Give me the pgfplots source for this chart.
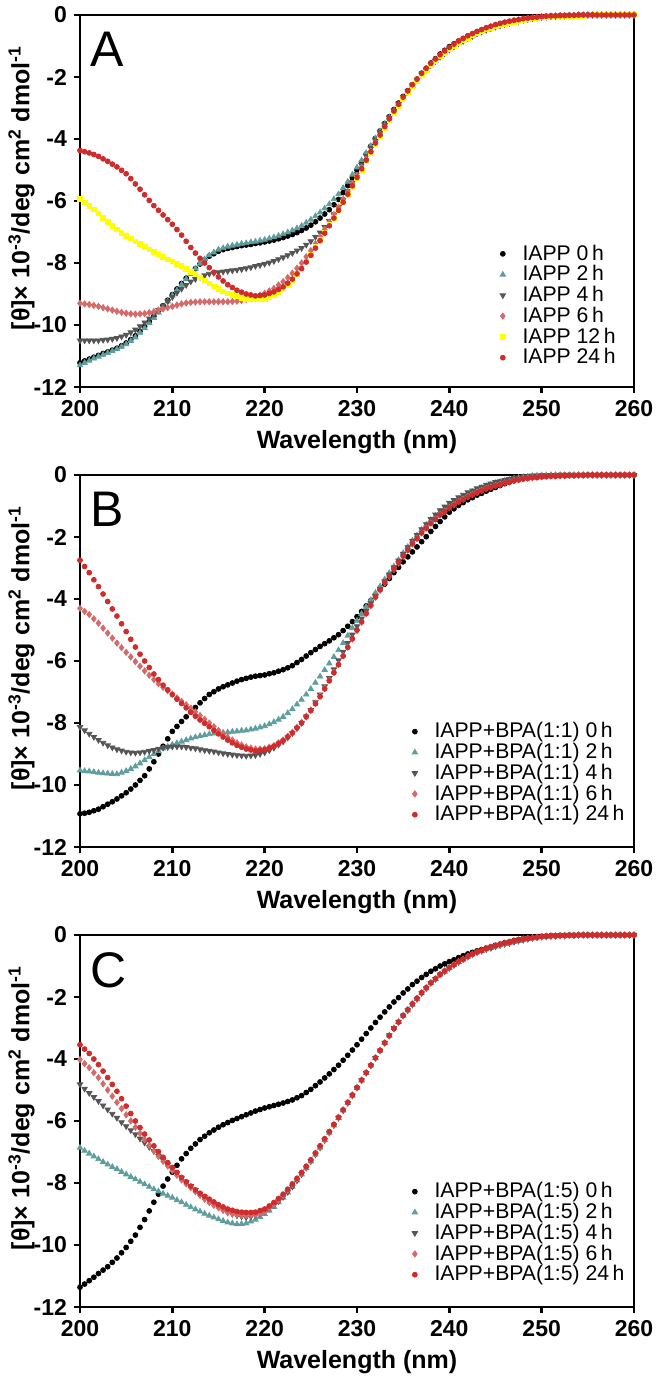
\documentclass[border=0pt]{standalone}
\usepackage{fontspec}
\setmainfont{Liberation Sans}
\usepackage{pgfplots}
\usepackage{pgfplotstable}
\pgfplotsset{compat=1.18}
\definecolor{cteal}{HTML}{5E9E9E}
\definecolor{cgray}{HTML}{555555}
\definecolor{cpink}{HTML}{D46A6A}
\definecolor{cred}{HTML}{D02C2C}
\definecolor{cyel}{HTML}{FFFF00}

% panel A: x, 0h, 2h, 4h, 6h, 12h, 24h
\pgfplotstableread{
x a b c d e f
200 -11.22 -11.30 -10.50 -9.30 -5.93 -4.37
200.5 -11.16 -11.22 -10.50 -9.32 -6.04 -4.41
201 -11.10 -11.15 -10.50 -9.34 -6.15 -4.45
201.5 -11.04 -11.08 -10.50 -9.37 -6.27 -4.50
202 -10.98 -11.02 -10.50 -9.40 -6.40 -4.56
202.5 -10.92 -10.96 -10.48 -9.44 -6.54 -4.64
203 -10.87 -10.90 -10.47 -9.48 -6.68 -4.72
203.5 -10.81 -10.84 -10.45 -9.52 -6.80 -4.81
204 -10.75 -10.78 -10.42 -9.56 -6.92 -4.90
204.5 -10.67 -10.70 -10.37 -9.59 -7.02 -5.01
205 -10.58 -10.62 -10.32 -9.62 -7.12 -5.12
205.5 -10.47 -10.51 -10.24 -9.64 -7.21 -5.28
206 -10.35 -10.40 -10.15 -9.65 -7.30 -5.45
206.5 -10.20 -10.25 -10.04 -9.64 -7.39 -5.62
207 -10.05 -10.10 -9.92 -9.63 -7.48 -5.80
207.5 -9.89 -9.94 -9.79 -9.60 -7.56 -5.98
208 -9.72 -9.77 -9.65 -9.57 -7.65 -6.15
208.5 -9.55 -9.60 -9.52 -9.52 -7.72 -6.30
209 -9.38 -9.42 -9.38 -9.48 -7.80 -6.45
209.5 -9.20 -9.24 -9.24 -9.44 -7.88 -6.60
210 -9.02 -9.05 -9.10 -9.40 -7.95 -6.75
210.5 -8.84 -8.88 -8.96 -9.36 -8.02 -6.92
211 -8.66 -8.70 -8.83 -9.32 -8.10 -7.10
211.5 -8.49 -8.52 -8.71 -9.29 -8.19 -7.30
212 -8.33 -8.35 -8.60 -9.27 -8.28 -7.50
212.5 -8.18 -8.18 -8.52 -9.26 -8.37 -7.68
213 -8.03 -8.02 -8.45 -9.25 -8.47 -7.85
213.5 -7.90 -7.88 -8.40 -9.25 -8.56 -8.00
214 -7.78 -7.75 -8.35 -9.25 -8.66 -8.15
214.5 -7.70 -7.66 -8.32 -9.25 -8.75 -8.30
215 -7.62 -7.57 -8.30 -9.25 -8.84 -8.45
215.5 -7.57 -7.52 -8.28 -9.25 -8.91 -8.58
216 -7.53 -7.47 -8.26 -9.25 -8.98 -8.70
216.5 -7.50 -7.44 -8.24 -9.24 -9.03 -8.79
217 -7.47 -7.41 -8.22 -9.23 -9.08 -8.88
217.5 -7.44 -7.38 -8.20 -9.21 -9.12 -8.94
218 -7.42 -7.36 -8.17 -9.18 -9.15 -9.00
218.5 -7.40 -7.33 -8.14 -9.14 -9.17 -9.03
219 -7.37 -7.31 -8.10 -9.10 -9.18 -9.06
219.5 -7.35 -7.28 -8.07 -9.04 -9.17 -9.05
220 -7.32 -7.25 -8.03 -8.98 -9.15 -9.03
220.5 -7.29 -7.21 -7.99 -8.90 -9.10 -8.98
221 -7.26 -7.17 -7.94 -8.82 -9.05 -8.93
221.5 -7.22 -7.12 -7.88 -8.71 -8.95 -8.85
222 -7.18 -7.07 -7.82 -8.60 -8.85 -8.77
222.5 -7.13 -7.01 -7.75 -8.47 -8.70 -8.65
223 -7.08 -6.95 -7.68 -8.33 -8.55 -8.52
223.5 -7.02 -6.88 -7.60 -8.17 -8.36 -8.35
224 -6.95 -6.80 -7.52 -8.00 -8.17 -8.18
224.5 -6.87 -6.70 -7.41 -7.80 -7.95 -7.97
225 -6.78 -6.60 -7.30 -7.60 -7.73 -7.75
225.5 -6.67 -6.49 -7.16 -7.38 -7.49 -7.52
226 -6.55 -6.37 -7.02 -7.15 -7.25 -7.28
226.5 -6.42 -6.24 -6.84 -6.92 -7.01 -7.04
227 -6.28 -6.10 -6.65 -6.68 -6.77 -6.80
227.5 -6.12 -5.94 -6.43 -6.44 -6.54 -6.55
228 -5.95 -5.78 -6.20 -6.20 -6.30 -6.30
228.5 -5.73 -5.58 -5.94 -5.95 -6.05 -6.04
229 -5.50 -5.38 -5.68 -5.70 -5.80 -5.78
229.5 -5.25 -5.15 -5.40 -5.44 -5.54 -5.51
230 -5.00 -4.92 -5.12 -5.18 -5.27 -5.24
230.5 -4.74 -4.69 -4.84 -4.92 -5.00 -4.96
231 -4.48 -4.45 -4.55 -4.65 -4.72 -4.68
231.5 -4.23 -4.22 -4.29 -4.39 -4.45 -4.41
232 -3.98 -3.98 -4.02 -4.12 -4.17 -4.13
232.5 -3.74 -3.75 -3.78 -3.86 -3.91 -3.87
233 -3.50 -3.52 -3.53 -3.60 -3.65 -3.60
233.5 -3.28 -3.30 -3.30 -3.36 -3.40 -3.35
234 -3.05 -3.08 -3.07 -3.12 -3.15 -3.10
234.5 -2.84 -2.88 -2.86 -2.90 -2.93 -2.88
235 -2.63 -2.67 -2.65 -2.68 -2.70 -2.65
235.5 -2.44 -2.48 -2.46 -2.48 -2.50 -2.45
236 -2.25 -2.28 -2.27 -2.28 -2.30 -2.25
236.5 -2.07 -2.11 -2.10 -2.10 -2.12 -2.07
237 -1.88 -1.93 -1.92 -1.92 -1.94 -1.88
237.5 -1.72 -1.78 -1.77 -1.76 -1.78 -1.72
238 -1.55 -1.62 -1.62 -1.60 -1.62 -1.56
238.5 -1.41 -1.49 -1.49 -1.46 -1.48 -1.42
239 -1.26 -1.35 -1.35 -1.32 -1.34 -1.28
239.5 -1.14 -1.24 -1.24 -1.20 -1.22 -1.16
240 -1.02 -1.12 -1.12 -1.08 -1.10 -1.04
240.5 -0.93 -1.02 -1.02 -0.98 -1.00 -0.94
241 -0.84 -0.92 -0.92 -0.88 -0.90 -0.84
241.5 -0.76 -0.84 -0.84 -0.79 -0.82 -0.76
242 -0.68 -0.75 -0.75 -0.70 -0.73 -0.67
242.5 -0.62 -0.68 -0.68 -0.63 -0.66 -0.60
243 -0.55 -0.60 -0.60 -0.56 -0.59 -0.53
243.5 -0.50 -0.54 -0.54 -0.50 -0.53 -0.47
244 -0.44 -0.48 -0.48 -0.44 -0.47 -0.41
244.5 -0.40 -0.43 -0.43 -0.39 -0.42 -0.36
245 -0.35 -0.38 -0.38 -0.34 -0.37 -0.31
245.5 -0.31 -0.34 -0.34 -0.30 -0.33 -0.27
246 -0.27 -0.29 -0.29 -0.26 -0.29 -0.23
246.5 -0.24 -0.26 -0.26 -0.23 -0.26 -0.20
247 -0.20 -0.22 -0.22 -0.19 -0.22 -0.17
247.5 -0.17 -0.19 -0.19 -0.16 -0.19 -0.15
248 -0.14 -0.16 -0.16 -0.13 -0.16 -0.12
248.5 -0.12 -0.14 -0.14 -0.11 -0.14 -0.10
249 -0.09 -0.11 -0.11 -0.09 -0.11 -0.08
249.5 -0.07 -0.09 -0.09 -0.08 -0.10 -0.07
250 -0.05 -0.07 -0.07 -0.06 -0.08 -0.05
250.5 -0.04 -0.06 -0.06 -0.05 -0.07 -0.04
251 -0.03 -0.04 -0.04 -0.04 -0.05 -0.03
251.5 -0.03 -0.04 -0.04 -0.03 -0.05 -0.03
252 -0.02 -0.03 -0.03 -0.02 -0.04 -0.02
252.5 -0.02 -0.03 -0.03 -0.02 -0.04 -0.02
253 -0.01 -0.02 -0.02 -0.01 -0.03 -0.01
253.5 -0.01 -0.02 -0.02 -0.01 -0.03 -0.01
254 0 -0.01 -0.01 0 -0.02 0
254.5 0 -0.01 -0.01 0 -0.02 0
255 0 0 0 0 -0.01 0
255.5 0 0 0 0 -0.01 0
256 0 0 0 0 0 0
256.5 0 0 0 0 0 0
257 0 0 0 0 0 0
257.5 0 0 0 0 0 0
258 0 0 0 0 0 0
258.5 0 0 0 0 0 0
259 0 0 0 0 0 0
259.5 0 0 0 0 0 0
260 0 0 0 0 0 0
}\tabA

% panel B: x, 0h, 2h, 4h, 6h, 24h
\pgfplotstableread{
x a b c d f
200 -10.93 -9.53 -8.13 -4.30 -2.75
200.5 -10.91 -9.55 -8.24 -4.40 -2.95
201 -10.88 -9.56 -8.35 -4.50 -3.15
201.5 -10.83 -9.58 -8.45 -4.64 -3.38
202 -10.78 -9.60 -8.55 -4.78 -3.60
202.5 -10.70 -9.62 -8.64 -4.94 -3.84
203 -10.62 -9.63 -8.72 -5.10 -4.08
203.5 -10.54 -9.64 -8.79 -5.26 -4.32
204 -10.45 -9.65 -8.85 -5.42 -4.55
204.5 -10.35 -9.60 -8.89 -5.57 -4.80
205 -10.25 -9.55 -8.93 -5.72 -5.05
205.5 -10.13 -9.48 -8.95 -5.87 -5.30
206 -10.00 -9.40 -8.96 -6.02 -5.55
206.5 -9.85 -9.30 -8.95 -6.17 -5.78
207 -9.70 -9.20 -8.93 -6.32 -6.00
207.5 -9.48 -9.10 -8.90 -6.46 -6.21
208 -9.25 -9.00 -8.87 -6.60 -6.42
208.5 -9.00 -8.91 -8.83 -6.73 -6.60
209 -8.75 -8.82 -8.80 -6.85 -6.78
209.5 -8.51 -8.76 -8.78 -6.96 -6.93
210 -8.27 -8.70 -8.76 -7.07 -7.08
210.5 -8.11 -8.65 -8.76 -7.19 -7.23
211 -7.95 -8.60 -8.76 -7.30 -7.37
211.5 -7.80 -8.55 -8.78 -7.41 -7.51
212 -7.65 -8.50 -8.80 -7.52 -7.65
212.5 -7.50 -8.46 -8.82 -7.64 -7.78
213 -7.35 -8.42 -8.85 -7.76 -7.90
213.5 -7.21 -8.39 -8.88 -7.88 -8.01
214 -7.08 -8.36 -8.90 -8.00 -8.12
214.5 -6.99 -8.34 -8.92 -8.12 -8.24
215 -6.90 -8.32 -8.95 -8.24 -8.35
215.5 -6.83 -8.31 -8.98 -8.35 -8.45
216 -6.77 -8.30 -9.00 -8.46 -8.55
216.5 -6.71 -8.28 -9.02 -8.55 -8.64
217 -6.65 -8.27 -9.04 -8.64 -8.72
217.5 -6.60 -8.25 -9.05 -8.71 -8.78
218 -6.56 -8.24 -9.06 -8.77 -8.84
218.5 -6.52 -8.21 -9.05 -8.81 -8.87
219 -6.49 -8.18 -9.04 -8.84 -8.90
219.5 -6.47 -8.14 -9.00 -8.84 -8.88
220 -6.45 -8.10 -8.95 -8.83 -8.86
220.5 -6.41 -8.04 -8.88 -8.78 -8.81
221 -6.38 -7.97 -8.80 -8.73 -8.75
221.5 -6.33 -7.89 -8.70 -8.64 -8.66
222 -6.28 -7.80 -8.60 -8.55 -8.57
222.5 -6.22 -7.68 -8.47 -8.43 -8.45
223 -6.15 -7.55 -8.33 -8.30 -8.32
223.5 -6.05 -7.40 -8.17 -8.14 -8.16
224 -5.95 -7.25 -8.00 -7.98 -8.00
224.5 -5.84 -7.08 -7.79 -7.78 -7.80
225 -5.73 -6.90 -7.58 -7.58 -7.60
225.5 -5.63 -6.70 -7.33 -7.36 -7.38
226 -5.53 -6.50 -7.08 -7.13 -7.15
226.5 -5.44 -6.29 -6.82 -6.88 -6.90
227 -5.35 -6.08 -6.55 -6.62 -6.64
227.5 -5.25 -5.87 -6.27 -6.36 -6.38
228 -5.15 -5.65 -5.98 -6.10 -6.12
228.5 -5.02 -5.42 -5.70 -5.83 -5.84
229 -4.88 -5.18 -5.42 -5.55 -5.56
229.5 -4.73 -4.94 -5.15 -5.29 -5.28
230 -4.57 -4.70 -4.88 -5.02 -5.00
230.5 -4.40 -4.48 -4.63 -4.75 -4.73
231 -4.22 -4.25 -4.38 -4.48 -4.46
231.5 -4.05 -4.03 -4.14 -4.22 -4.20
232 -3.88 -3.80 -3.90 -3.95 -3.93
232.5 -3.70 -3.59 -3.67 -3.72 -3.70
233 -3.52 -3.37 -3.43 -3.48 -3.46
233.5 -3.34 -3.16 -3.21 -3.27 -3.25
234 -3.15 -2.95 -2.98 -3.05 -3.03
234.5 -2.98 -2.74 -2.76 -2.84 -2.82
235 -2.80 -2.52 -2.54 -2.62 -2.61
235.5 -2.64 -2.32 -2.33 -2.42 -2.42
236 -2.48 -2.12 -2.12 -2.22 -2.22
236.5 -2.32 -1.95 -1.94 -2.05 -2.05
237 -2.15 -1.77 -1.75 -1.87 -1.87
237.5 -1.99 -1.61 -1.59 -1.71 -1.72
238 -1.82 -1.45 -1.42 -1.55 -1.56
238.5 -1.66 -1.32 -1.28 -1.42 -1.43
239 -1.50 -1.18 -1.14 -1.28 -1.29
239.5 -1.35 -1.07 -1.02 -1.17 -1.18
240 -1.20 -0.96 -0.90 -1.05 -1.06
240.5 -1.09 -0.87 -0.81 -0.96 -0.97
241 -0.98 -0.78 -0.72 -0.86 -0.87
241.5 -0.89 -0.70 -0.64 -0.78 -0.79
242 -0.80 -0.62 -0.56 -0.70 -0.71
242.5 -0.73 -0.55 -0.50 -0.63 -0.64
243 -0.65 -0.48 -0.43 -0.56 -0.57
243.5 -0.59 -0.42 -0.38 -0.50 -0.51
244 -0.52 -0.36 -0.32 -0.44 -0.45
244.5 -0.46 -0.31 -0.28 -0.39 -0.40
245 -0.40 -0.26 -0.23 -0.34 -0.35
245.5 -0.34 -0.22 -0.20 -0.30 -0.31
246 -0.28 -0.18 -0.16 -0.25 -0.26
246.5 -0.23 -0.15 -0.13 -0.22 -0.23
247 -0.18 -0.11 -0.10 -0.18 -0.19
247.5 -0.14 -0.09 -0.08 -0.15 -0.16
248 -0.10 -0.06 -0.05 -0.12 -0.13
248.5 -0.08 -0.05 -0.04 -0.10 -0.11
249 -0.05 -0.03 -0.02 -0.08 -0.09
249.5 -0.04 -0.02 -0.02 -0.07 -0.08
250 -0.02 -0.01 -0.01 -0.05 -0.06
250.5 -0.02 -0.01 -0.01 -0.04 -0.05
251 -0.01 0 0 -0.03 -0.04
251.5 -0.01 0 0 -0.03 -0.04
252 0 0 0 -0.02 -0.03
252.5 0 0 0 -0.02 -0.03
253 0 0 0 -0.01 -0.02
253.5 0 0 0 -0.01 -0.02
254 0 0 0 0 -0.01
254.5 0 0 0 0 -0.01
255 0 0 0 0 0
255.5 0 0 0 0 0
256 0 0 0 0 0
256.5 0 0 0 0 0
257 0 0 0 0 0
257.5 0 0 0 0 0
258 0 0 0 0 0
258.5 0 0 0 0 0
259 0 0 0 0 0
259.5 0 0 0 0 0
260 0 0 0 0 0
}\tabB

% panel C: x, 0h, 2h, 4h, 6h, 24h
\pgfplotstableread{
x a b c d f
200 -11.36 -6.86 -4.82 -4.02 -3.54
200.5 -11.26 -6.96 -4.96 -4.15 -3.68
201 -11.15 -7.05 -5.10 -4.28 -3.82
201.5 -11.04 -7.14 -5.23 -4.44 -4.00
202 -10.92 -7.23 -5.36 -4.60 -4.18
202.5 -10.81 -7.32 -5.50 -4.80 -4.39
203 -10.70 -7.40 -5.63 -5.00 -4.60
203.5 -10.56 -7.48 -5.77 -5.20 -4.82
204 -10.42 -7.55 -5.90 -5.40 -5.04
204.5 -10.25 -7.64 -6.04 -5.60 -5.28
205 -10.08 -7.72 -6.17 -5.80 -5.52
205.5 -9.88 -7.80 -6.30 -6.00 -5.76
206 -9.68 -7.88 -6.43 -6.20 -6.00
206.5 -9.43 -7.96 -6.57 -6.40 -6.21
207 -9.18 -8.04 -6.70 -6.60 -6.42
207.5 -8.90 -8.12 -6.84 -6.79 -6.61
208 -8.62 -8.20 -6.97 -6.97 -6.80
208.5 -8.36 -8.27 -7.12 -7.14 -6.99
209 -8.10 -8.34 -7.26 -7.30 -7.17
209.5 -7.87 -8.41 -7.41 -7.45 -7.34
210 -7.65 -8.47 -7.55 -7.60 -7.50
210.5 -7.43 -8.55 -7.69 -7.75 -7.66
211 -7.22 -8.62 -7.83 -7.90 -7.82
211.5 -7.05 -8.70 -7.97 -8.03 -7.96
212 -6.88 -8.78 -8.10 -8.15 -8.10
212.5 -6.74 -8.85 -8.23 -8.28 -8.22
213 -6.60 -8.92 -8.35 -8.40 -8.33
213.5 -6.49 -8.99 -8.46 -8.52 -8.43
214 -6.38 -9.05 -8.57 -8.63 -8.52
214.5 -6.29 -9.11 -8.68 -8.72 -8.61
215 -6.20 -9.17 -8.78 -8.80 -8.70
215.5 -6.12 -9.22 -8.87 -8.88 -8.77
216 -6.05 -9.27 -8.95 -8.95 -8.84
216.5 -5.98 -9.30 -9.00 -8.99 -8.88
217 -5.92 -9.33 -9.05 -9.02 -8.92
217.5 -5.86 -9.32 -9.08 -9.04 -8.94
218 -5.80 -9.30 -9.10 -9.05 -8.95
218.5 -5.74 -9.24 -9.08 -9.04 -8.95
219 -5.68 -9.18 -9.05 -9.03 -8.94
219.5 -5.63 -9.09 -8.99 -8.98 -8.89
220 -5.58 -9.00 -8.92 -8.92 -8.84
220.5 -5.54 -8.89 -8.82 -8.81 -8.74
221 -5.50 -8.77 -8.72 -8.70 -8.63
221.5 -5.46 -8.62 -8.59 -8.55 -8.50
222 -5.42 -8.47 -8.45 -8.40 -8.36
222.5 -5.37 -8.30 -8.29 -8.23 -8.20
223 -5.32 -8.12 -8.12 -8.05 -8.03
223.5 -5.25 -7.92 -7.92 -7.87 -7.85
224 -5.18 -7.72 -7.72 -7.68 -7.66
224.5 -5.08 -7.51 -7.51 -7.48 -7.46
225 -4.98 -7.30 -7.30 -7.27 -7.25
225.5 -4.86 -7.08 -7.08 -7.05 -7.03
226 -4.74 -6.86 -6.86 -6.83 -6.80
226.5 -4.61 -6.62 -6.62 -6.60 -6.57
227 -4.48 -6.38 -6.38 -6.36 -6.34
227.5 -4.34 -6.14 -6.14 -6.12 -6.11
228 -4.20 -5.90 -5.90 -5.88 -5.88
228.5 -4.04 -5.66 -5.66 -5.64 -5.64
229 -3.88 -5.42 -5.42 -5.40 -5.40
229.5 -3.71 -5.18 -5.18 -5.16 -5.16
230 -3.54 -4.93 -4.93 -4.92 -4.92
230.5 -3.36 -4.69 -4.69 -4.68 -4.68
231 -3.18 -4.45 -4.45 -4.44 -4.44
231.5 -3.00 -4.21 -4.21 -4.20 -4.20
232 -2.82 -3.97 -3.97 -3.96 -3.96
232.5 -2.65 -3.73 -3.73 -3.72 -3.72
233 -2.48 -3.48 -3.48 -3.48 -3.48
233.5 -2.32 -3.24 -3.24 -3.25 -3.25
234 -2.16 -3.00 -3.00 -3.02 -3.02
234.5 -2.02 -2.80 -2.80 -2.81 -2.81
235 -1.87 -2.60 -2.60 -2.60 -2.60
235.5 -1.74 -2.43 -2.43 -2.41 -2.41
236 -1.60 -2.25 -2.25 -2.22 -2.22
236.5 -1.49 -2.07 -2.07 -2.04 -2.04
237 -1.37 -1.88 -1.88 -1.86 -1.86
237.5 -1.27 -1.72 -1.72 -1.70 -1.70
238 -1.17 -1.55 -1.55 -1.54 -1.54
238.5 -1.09 -1.42 -1.42 -1.41 -1.41
239 -1.00 -1.28 -1.28 -1.27 -1.27
239.5 -0.93 -1.18 -1.18 -1.16 -1.16
240 -0.86 -1.07 -1.07 -1.05 -1.05
240.5 -0.80 -0.97 -0.97 -0.96 -0.96
241 -0.73 -0.87 -0.87 -0.86 -0.86
241.5 -0.67 -0.79 -0.79 -0.78 -0.78
242 -0.61 -0.70 -0.70 -0.69 -0.69
242.5 -0.56 -0.63 -0.63 -0.62 -0.62
243 -0.51 -0.56 -0.56 -0.55 -0.55
243.5 -0.47 -0.51 -0.51 -0.50 -0.50
244 -0.42 -0.46 -0.46 -0.44 -0.44
244.5 -0.38 -0.42 -0.42 -0.39 -0.39
245 -0.33 -0.37 -0.37 -0.34 -0.34
245.5 -0.29 -0.33 -0.33 -0.30 -0.30
246 -0.25 -0.29 -0.29 -0.26 -0.26
246.5 -0.22 -0.26 -0.26 -0.23 -0.23
247 -0.18 -0.22 -0.22 -0.19 -0.19
247.5 -0.15 -0.19 -0.19 -0.16 -0.16
248 -0.12 -0.16 -0.16 -0.13 -0.13
248.5 -0.10 -0.13 -0.13 -0.11 -0.11
249 -0.07 -0.10 -0.10 -0.09 -0.09
249.5 -0.06 -0.08 -0.08 -0.07 -0.07
250 -0.04 -0.06 -0.06 -0.05 -0.05
250.5 -0.03 -0.05 -0.05 -0.04 -0.04
251 -0.02 -0.04 -0.04 -0.03 -0.03
251.5 -0.02 -0.03 -0.03 -0.03 -0.03
252 -0.01 -0.02 -0.02 -0.02 -0.02
252.5 -0.01 -0.02 -0.02 -0.02 -0.02
253 0 -0.01 -0.01 -0.01 -0.01
253.5 0 -0.01 -0.01 -0.01 -0.01
254 0 0 0 0 0
254.5 0 0 0 0 0
255 0 0 0 0 0
255.5 0 0 0 0 0
256 0 0 0 0 0
256.5 0 0 0 0 0
257 0 0 0 0 0
257.5 0 0 0 0 0
258 0 0 0 0 0
258.5 0 0 0 0 0
259 0 0 0 0 0
259.5 0 0 0 0 0
260 0 0 0 0 0
}\tabC

\pgfplotsset{
  cdpanel/.style={
    width=277pt, height=186pt, scale only axis,
    anchor=south west,
    xmin=200, xmax=260, ymin=-12, ymax=0,
    xtick={200,210,...,260}, ytick={-12,-10,...,0},
    xtick pos=bottom, ytick pos=left,
    tick align=outside, major tick length=3pt,
    axis line style={line width=1.4pt},
    tick style={line width=1.2pt, black},
    /pgf/number format/assume math mode=true,
    tick label style={font=\bfseries\fontsize{11.5}{11.5}\selectfont},
    label style={font=\bfseries\fontsize{12.5}{12.5}\selectfont},
    xlabel={Wavelength (nm)},
    ylabel={[θ]× 10\textsuperscript{-3}/deg cm\textsuperscript{2} dmol\textsuperscript{-1}},
    % rotated label: yshift moves it to the left
    ylabel style={at={(rel axis cs:0,0.535)}, anchor=south, inner sep=0pt, yshift=22.5pt},
    clip=false,
    legend cell align=left,
    legend style={draw=none, fill=none, anchor=south east,
      font=\fontsize{10.6}{10.6}\selectfont, row sep=-0.8pt, column sep=7.5pt,
      nodes={inner sep=1pt}},
  },
  s0/.style={only marks, mark=*, mark size=1.22pt, black, mark options={draw=none, fill=black}},
  s2/.style={only marks, mark=triangle*, mark size=1.55pt, mark options={draw=none, fill=cteal}, color=cteal},
  s4/.style={only marks, mark=triangle*, mark size=1.55pt, mark options={draw=none, fill=cgray, rotate=180}, color=cgray},
  s6/.style={only marks, mark=diamond*, mark size=1.55pt, mark options={draw=none, fill=cpink}, color=cpink},
  s12/.style={only marks, mark=square*, mark size=1.15pt, mark options={draw=none, fill=cyel}, color=cyel},
  s24/.style={only marks, mark=*, mark size=1.22pt, mark options={draw=none, fill=cred}, color=cred},
}

\begin{document}
\begin{tikzpicture}
\begin{axis}[cdpanel, at={(0,0)}, legend style={at={(0.982,0.037)}}]
\addplot[s0] table[x=x,y=a] {\tabA};
\addplot[s2] table[x=x,y=b] {\tabA};
\addplot[s4] table[x=x,y=c] {\tabA};
\addplot[s6] table[x=x,y=d] {\tabA};
\addplot[s12] table[x=x,y=e] {\tabA};
\addplot[s24] table[x=x,y=f] {\tabA};
\legend{IAPP 0\,h, IAPP 2\,h, IAPP 4\,h, IAPP 6\,h, IAPP 12\,h, IAPP 24\,h}
\node[anchor=north west, inner sep=0pt, font=\fontsize{25}{25}\selectfont] at (rel axis cs:0.018,0.954) {A};
\end{axis}

\begin{axis}[cdpanel, at={(0,-230pt)}, legend style={at={(0.998,0.045)}}]
\addplot[s0] table[x=x,y=a] {\tabB};
\addplot[s2] table[x=x,y=b] {\tabB};
\addplot[s4] table[x=x,y=c] {\tabB};
\addplot[s6] table[x=x,y=d] {\tabB};
\addplot[s24] table[x=x,y=f] {\tabB};
\legend{IAPP+BPA(1:1) 0\,h, IAPP+BPA(1:1) 2\,h, IAPP+BPA(1:1) 4\,h, IAPP+BPA(1:1) 6\,h, IAPP+BPA(1:1) 24\,h}
\node[anchor=north west, inner sep=0pt, font=\fontsize{25}{25}\selectfont] at (rel axis cs:0.018,0.954) {B};
\end{axis}

\begin{axis}[cdpanel, at={(0,-460pt)}, legend style={at={(0.998,0.045)}}]
\addplot[s0] table[x=x,y=a] {\tabC};
\addplot[s2] table[x=x,y=b] {\tabC};
\addplot[s4] table[x=x,y=c] {\tabC};
\addplot[s6] table[x=x,y=d] {\tabC};
\addplot[s24] table[x=x,y=f] {\tabC};
\legend{IAPP+BPA(1:5) 0\,h, IAPP+BPA(1:5) 2\,h, IAPP+BPA(1:5) 4\,h, IAPP+BPA(1:5) 6\,h, IAPP+BPA(1:5) 24\,h}
\node[anchor=north west, inner sep=0pt, font=\fontsize{25}{25}\selectfont] at (rel axis cs:0.018,0.954) {C};
\end{axis}
\pgfresetboundingbox
\path[use as bounding box] (-40pt,-499.5pt) rectangle (292pt,193.5pt);
\end{tikzpicture}
\end{document}
